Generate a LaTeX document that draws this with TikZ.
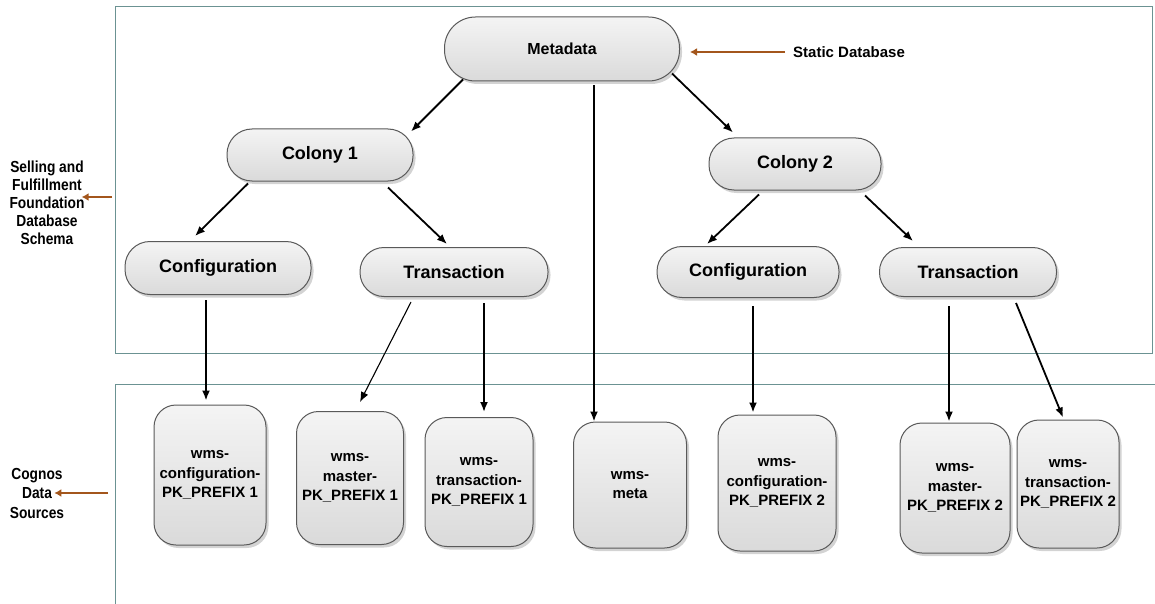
\documentclass[tikz,border=0pt]{standalone}
\usepackage{fontspec}
\setmainfont{Liberation Sans}
\newfontfamily\narrowsf[FakeStretch=0.86]{Liberation Sans}
\usetikzlibrary{arrows.meta,shadows,calc}
\tikzset{>={Latex[width=8pt,length=10pt]}}
\definecolor{framegray}{HTML}{6B9292}
\definecolor{tagbrown}{HTML}{A3561C}
\definecolor{pilltop}{HTML}{F4F4F4}
\definecolor{pillbottom}{HTML}{DADADA}
\tikzset{
  pill/.style={draw=black!65, line width=1pt, inner sep=0pt,
    top color=pilltop, bottom color=pillbottom,
    drop shadow={shadow xshift=2.5pt, shadow yshift=-3pt, opacity=0.35},
    font=\bfseries\fontsize{18}{20}\selectfont},
  source/.style={pill, align=center, rounded corners=22pt,
    font=\bfseries\fontsize{15}{19.5}\selectfont},
  side/.style={align=center, inner sep=0pt,
    font=\narrowsf\bfseries\fontsize{16}{18}\selectfont},
  link/.style={->, line width=1.8pt},
  tag/.style={->, line width=2pt, draw=tagbrown, >={Latex[width=8pt,length=7pt]}}
}

\begin{document}
\begin{tikzpicture}[x=1pt, y=-1pt]
  \useasboundingbox (0,0) rectangle (1155,604);

  %% frames
  \draw[framegray, line width=1pt] (115,7) rectangle (1152,353);
  \draw[framegray, line width=1pt] (1155,384) -- (115,384) -- (115,604);

  %% schema
  \node[pill, minimum width=235pt, minimum height=64pt, rounded corners=31pt,
    font=\bfseries\fontsize{16}{18}\selectfont] (meta) at (562,49) {Metadata};
  \node[pill, minimum width=186pt, minimum height=52pt, rounded corners=25pt] (col1) at (320,155) {Colony 1};
  \node[pill, minimum width=172pt, minimum height=52pt, rounded corners=25pt] (col2) at (795,164) {Colony 2};
  \node[pill, minimum width=186pt, minimum height=53pt, rounded corners=25pt] (cfg1) at (218,268) {Configuration};
  \node[pill, minimum width=188pt, minimum height=49pt, rounded corners=24pt] (trn1) at (454,272) {Transaction};
  \node[pill, minimum width=182pt, minimum height=51pt, rounded corners=25pt] (cfg2) at (748,272) {Configuration};
  \node[pill, minimum width=177pt, minimum height=49pt, rounded corners=24pt] (trn2) at (968,272) {Transaction};

  %% data sources
  \node[source, minimum width=112pt, minimum height=140pt] (srcCfg1) at (210,475) {wms-\\configuration-\\PK\_PREFIX 1};
  \node[source, minimum width=107pt, minimum height=133pt] (srcMst1) at (350,478) {wms-\\master-\\PK\_PREFIX 1};
  \node[source, minimum width=108pt, minimum height=129pt] (srcTrn1) at (479,482) {wms-\\transaction-\\PK\_PREFIX 1};
  \node[source, minimum width=113pt, minimum height=126pt] (srcMeta) at (630,485) {wms-\\meta};
  \node[source, minimum width=118pt, minimum height=136pt] (srcCfg2) at (777,483) {wms-\\configuration-\\PK\_PREFIX 2};
  \node[source, minimum width=110pt, minimum height=130pt] (srcMst2) at (955,488) {wms-\\master-\\PK\_PREFIX 2};
  \node[source, minimum width=102pt, minimum height=128pt] (srcTrn2) at (1068,484) {wms-\\transaction-\\PK\_PREFIX 2};

  %% links
  \draw[link] ($(meta.south)+(-99,-2)$) -- ($(col1.north)+(91,3)$);
  \draw[link] ($(meta.south)+(110,-8)$) -- ($(col2.north)+(-62,-5)$);
  \draw[link] ($(meta.south)+(32,4)$) -- ($(srcMeta.north)+(-36,0)$);
  \draw[link] ($(col1.south)+(-72,2)$) -- ($(cfg1.north)+(-23,-5)$);
  \draw[link] ($(col1.south)+(68,6)$) -- ($(trn1.north)+(-7,-3)$);
  \draw[link] ($(col2.south)+(-36,4)$) -- ($(cfg2.north)+(-41,-2)$);
  \draw[link] ($(col2.south)+(70,5)$) -- ($(trn2.north)+(-55,-6)$);
  \draw[link] ($(cfg1.south)+(-12,5)$) -- ($(srcCfg1.north)+(-4,-4)$);
  \draw[link, line width=1.1pt] ($(trn1.south)+(-43,5)$) -- ($(srcMst1.north)+(10,-9)$);
  \draw[link] ($(trn1.south)+(30,6)$) -- ($(srcTrn1.north)+(5,-5)$);
  \draw[link] ($(cfg2.south)+(5,8)$) -- ($(srcCfg2.north)+(-24,-2)$);
  \draw[link] ($(trn2.south)+(-19,9)$) -- ($(srcMst2.north)+(-6,-1)$);
  \draw[link] ($(trn2.south)+(48,6)$) -- ($(srcTrn2.north)+(-5,-2)$);

  %% side labels
  \node[inner sep=0pt, anchor=west, font=\bfseries\fontsize{15}{17}\selectfont] (static) at (793,52) {Static Database};
  \draw[tag] ($(static.west)+(-8,0)$) -- ($(meta.east)+(10,3)$);

  \node[side] (schema) at (47,203) {Selling and\\Fulfillment\\Foundation\\Database\\Schema};
  \coordinate (schemaFrom) at (112,197);
  \draw[tag] (schemaFrom) -- ($(schema.east)+(-3,-6)$);

  \node[side, font=\narrowsf\bfseries\fontsize{16}{19.5}\selectfont] (cognos) at (37,493) {Cognos\\Data\\Sources};
  \coordinate (cognosFrom) at (108,493);
  \draw[tag] (cognosFrom) -- ($(cognos.east)+(-10,0)$);
\end{tikzpicture}
\end{document}
